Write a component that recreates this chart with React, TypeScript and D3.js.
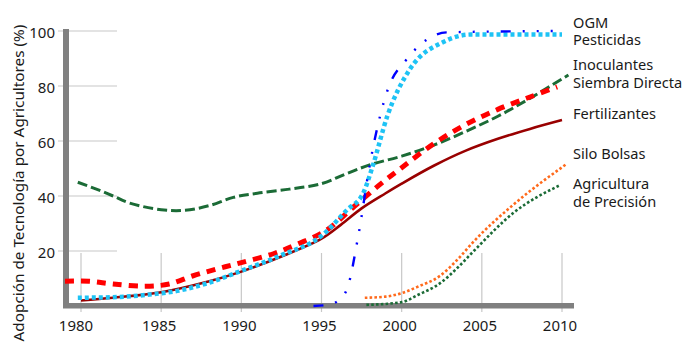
import React, { useEffect, useRef } from 'react';
import * as d3 from 'd3';

const years = [1980, 1985, 1990, 1995, 2000, 2005, 2010];
const yTicks = [20, 40, 60, 80, 100];

const siembraDirecta = [[1979.8, 45], [1981, 42.4], [1982, 40], [1983, 37.5], [1985, 35], [1986.5, 34.8], [1988, 36.5], [1989.5, 39.5], [1991, 41], [1993, 42.5], [1995, 44.5], [1996.5, 48], [1998, 51.3], [2000, 54.5], [2002, 58.5], [2004, 63.5], [2006, 69], [2008, 75.5], [2010.4, 84]];
const inoculantes = [[1979, 9], [1980.5, 9], [1982, 8], [1984, 7.2], [1985.5, 8], [1987, 11], [1988.5, 13.5], [1990, 15.8], [1992, 19], [1993.5, 22.5], [1995.3, 27.5], [1997, 36], [1998.5, 43.5], [2000, 50.3], [2002, 59], [2004, 66], [2006, 71.5], [2008, 76], [2009.7, 79.7]];
const fertilizantes = [[1980, 2], [1982, 3], [1985, 5], [1988, 9], [1990, 12.5], [1992.5, 18], [1995, 24.5], [1996.2, 29.5], [1997.5, 35.5], [1999, 41], [2000, 44.5], [2002, 51], [2004, 56.5], [2006, 60.8], [2008, 64.4], [2010, 67.6]];
const pesticidas = [[1979.8, 3], [1982, 3.2], [1984, 4], [1986, 5.5], [1988, 8.5], [1990, 12.8], [1992.5, 18.5], [1995, 25.5], [1996.6, 35], [1997.6, 41], [1998.2, 51], [1999.1, 69], [2000.5, 86], [2002.6, 96], [2004.3, 98.7], [2010, 98.7]];
const ogm = [[1994.5, 0], [1995.5, 0.5], [1996.5, 5], [1997.3, 25.7], [1998, 51], [1998.65, 69], [1999.15, 79], [2000.3, 89.6], [2001.6, 97], [2002.8, 99.5], [2010, 100]];
const siloBolsas = [[1997.7, 3], [1999, 3.4], [2000, 4.7], [2001, 7], [2002.4, 11], [2003.5, 17], [2004.5, 23.5], [2007, 37], [2010.3, 51.7]];
const agriculturaPrecision = [[1997.8, 0.4], [2000, 1.4], [2001, 4], [2002.4, 8.3], [2003.5, 14], [2004.5, 20], [2007, 34], [2009.9, 44]];

const legendLabels = [
  ['OGM', 28], ['Pesticidas', 45], ['Inoculantes', 70], ['Siembra Directa', 88],
  ['Fertilizantes', 119], ['Silo Bolsas', 159], ['Agricultura', 189], ['de Precisión', 207],
];

const FONT = '"Noto Sans", "Open Sans", sans-serif';

function App() {
  const ref = useRef<SVGSVGElement>(null);

  useEffect(() => {
    const svg = d3.select(ref.current);
    svg.selectAll('*').remove();

    const x = d3.scaleLinear().domain([1980, 2010]).range([81, 562]);
    const y = d3.scaleLinear().domain([0, 100]).range([306, 31]);

    // short grid stubs
    svg.selectAll('line.hgrid')
      .data(yTicks)
      .enter().append('line')
      .attr('x1', 58).attr('x2', 117)
      .attr('y1', d => y(d)).attr('y2', d => y(d))
      .attr('stroke', '#c8c8c8').attr('stroke-width', 1.2);

    svg.selectAll('line.vgrid')
      .data(years)
      .enter().append('line')
      .attr('x1', d => x(d)).attr('x2', d => x(d))
      .attr('y1', 253).attr('y2', 312)
      .attr('stroke', '#c8c8c8').attr('stroke-width', 1.2);

    // thick axis bars
    svg.append('rect').attr('x', 63).attr('y', 29).attr('width', 6).attr('height', 279).attr('fill', '#808080');
    svg.append('rect').attr('x', 63).attr('y', 303).attr('width', 511).attr('height', 5.5).attr('fill', '#808080');

    svg.selectAll('text.ytick')
      .data(yTicks)
      .enter().append('text')
      .attr('x', 55).attr('y', d => y(d) + 7)
      .attr('text-anchor', 'end')
      .attr('font-family', FONT).attr('font-size', 15).attr('fill', '#1a1a1a')
      .text(d => d);

    svg.selectAll('text.xtick')
      .data(years)
      .enter().append('text')
      .attr('x', d => x(d) - (d === 1980 ? 5 : 2)).attr('y', 331)
      .attr('text-anchor', 'middle')
      .attr('font-family', FONT).attr('font-size', 15).attr('fill', '#1a1a1a')
      .text(d => d);

    svg.append('text')
      .attr('transform', 'translate(24,183) rotate(-90)')
      .attr('text-anchor', 'middle')
      .attr('font-family', FONT).attr('font-size', 15.3).attr('fill', '#1a1a1a')
      .text('Adopción de Tecnología por Agricultores (%)');

    const smooth = d3.line<number[]>()
      .x(d => x(d[0]))
      .y(d => y(d[1]))
      .curve(d3.curveCatmullRom.alpha(0.5));
    const mono = d3.line<number[]>()
      .x(d => x(d[0]))
      .y(d => y(d[1]))
      .curve(d3.curveMonotoneX);

    const series: [number[][], string, number, string, boolean][] = [
      [siembraDirecta, '#1b6b36', 3, '10,4', true],
      [inoculantes, '#ff0000', 5, '9,7', true],
      [fertilizantes, '#990000', 2.6, 'none', true],
      [pesticidas, '#1ec3f5', 4.5, '4,3', false],
      [ogm, '#0000ff', 2.4, '10,12,2,12,2,12,2,12', false],
      [siloBolsas, '#ff6a1c', 2.6, '2.6,2.2', false],
      [agriculturaPrecision, '#1b6b36', 2.6, '2.6,2.2', false],
    ];

    svg.selectAll('path.series')
      .data(series)
      .enter().append('path')
      .attr('d', d => (d[4] ? smooth : mono)(d[0]))
      .attr('fill', 'none')
      .attr('stroke', d => d[1])
      .attr('stroke-width', d => d[2])
      .attr('stroke-dasharray', d => d[3]);

    svg.selectAll('text.legend')
      .data(legendLabels)
      .enter().append('text')
      .attr('x', 573).attr('y', d => d[1])
      .attr('font-family', FONT).attr('font-size', 14.6).attr('fill', '#1a1a1a')
      .text(d => d[0]);
  }, []);

  return (
    <svg ref={ref} width={695} height={359}
      style={{ position: 'absolute', left: 0, top: 0, background: '#fff' }} />
  );
}

export default App;
